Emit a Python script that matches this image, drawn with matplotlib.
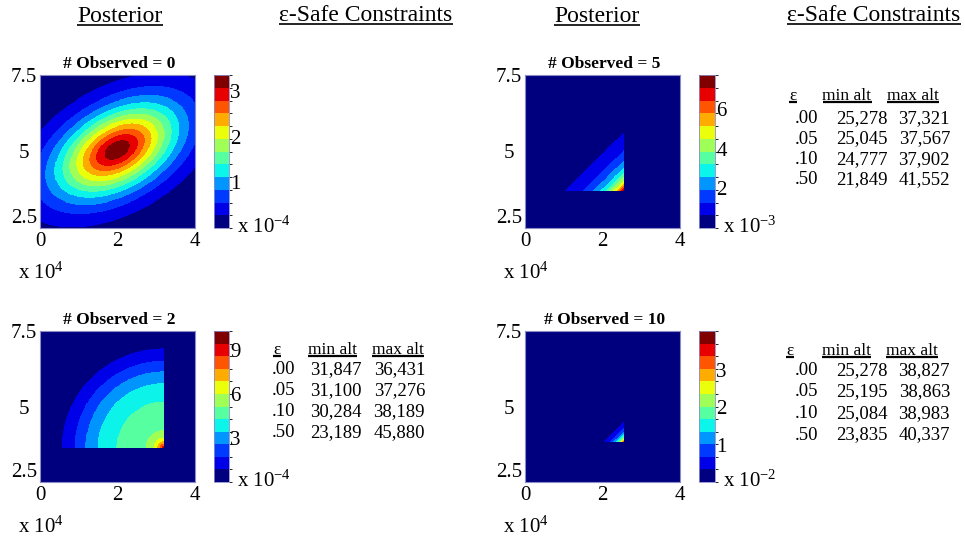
import numpy as np
import matplotlib
matplotlib.use('Agg')
import matplotlib.pyplot as plt
from matplotlib.colors import ListedColormap, BoundaryNorm
from matplotlib.lines import Line2D

plt.rcParams['font.family'] = ['Liberation Serif', 'DejaVu Serif']
plt.rcParams['mathtext.fontset'] = 'custom'
plt.rcParams['mathtext.rm'] = 'Liberation Serif'
plt.rcParams['mathtext.it'] = 'Liberation Serif:italic'
plt.rcParams['mathtext.bf'] = 'Liberation Serif:bold'

# ---------------- data ----------------
observed = [0, 5, 2, 10]
x_ticks = [0, 2, 4]               # x 10^4
y_ticks = [2.5, 5, 7.5]
cbar_max = [3.35, 7.7, 10.3, 4.05]
cbar_ticks = [[1, 2, 3], [2, 4, 6], [3, 6, 9], [1, 2, 3]]
cbar_exp = [-4, -3, -4, -2]
peak_value = [3.3, 7.5, 9.6, 3.9]
# posterior support (truncation) [xmin, xmax, ymin, ymax], x in units of 10^4
support = [[0, 4, 2.5, 7.5], [0, 2.55, 3.72, 7.5], [0, 3.2, 3.63, 7.1], [0, 2.55, 3.82, 7.5]]
# posterior shape components: (weight, centre_u, centre_v, scale_major, scale_minor, angle_deg, power)
# centres/scales as fractions of the axis ranges
shape_obs0 = [(1.0, 0.497, 0.51, 0.423, 0.245, 30, 1.7)]
shape_obs5 = [(1.0, 0.6375, 0.244, 100.0, 0.099, 45, 0.9)]
shape_obs2 = [(4.5, 0.80, 0.226, 0.58, 0.58, 0, 4), (5.0, 0.80, 0.226, 0.052, 0.052, 0, 1)]
shape_obs10 = [(1.0, 0.6375, 0.264, 100.0, 0.035, 45, 0.9)]
shapes = [shape_obs0, shape_obs5, shape_obs2, shape_obs10]

eps_labels = ['.00', '.05', '.10', '.50']
min_alt_obs2 = [31847, 31100, 30284, 23189]
max_alt_obs2 = [36431, 37276, 38189, 45880]
min_alt_obs5 = [25278, 25045, 24777, 21849]
max_alt_obs5 = [37321, 37567, 37902, 41552]
min_alt_obs10 = [25278, 25195, 25084, 23835]
max_alt_obs10 = [38827, 38863, 38983, 40337]
tables = {1: (min_alt_obs5, max_alt_obs5), 2: (min_alt_obs2, max_alt_obs2), 3: (min_alt_obs10, max_alt_obs10)}

# ---------------- layout (pixels) ----------------
W, H = 965, 537
fig = plt.figure(figsize=(W / 100, H / 100), dpi=100)
axes_px = [(40, 75, 195, 228), (525, 75, 680, 228), (40, 331, 195, 482), (525, 331, 680, 482)]
cbar_px = [(214, 229), (699, 715), (214, 229), (699, 715)]
# table layout: header baseline, first row baseline, row step, header centres, column right edges
table_px = {
    1: dict(hb=100, rb=123, step=20.5, hc=(793, 847, 913), re=(818, 888, 950)),
    2: dict(hb=354, rb=374, step=21.0, hc=(277, 332, 398), re=(295, 362, 425)),
    3: dict(hb=355, rb=375, step=21.5, hc=(790, 846, 912), re=(818, 888, 950)),
}

def fx(x):
    return x / W

def fy(y):
    return 1 - y / H

def rect(l, t, r, b):
    return [fx(l), fy(b), (r - l) / W, (b - t) / H]

cmap = ListedColormap(plt.get_cmap('jet')(np.linspace(0, 1, 12)))
spine_col = '#8c8cc8'
tick_fs = 15

n = 300
u = np.linspace(0, 1, n)
U, V = np.meshgrid(u, u)
X = 4 * U
Y = 2.5 + 5 * V

def density(comps, box):
    f = np.zeros_like(U)
    for w, cu, cv, smaj, smin, ang, p in comps:
        th = np.deg2rad(ang)
        du, dv = U - cu, V - cv
        a = du * np.cos(th) + dv * np.sin(th)
        b = -du * np.sin(th) + dv * np.cos(th)
        Q = (a / smaj) ** 2 + (b / smin) ** 2
        f += w * np.exp(-Q ** (p / 2))
    inside = (X >= box[0]) & (X <= box[1]) & (Y >= box[2]) & (Y <= box[3])
    f = np.where(inside, f, 0.0)
    return f

underline_list = []

for i in range(4):
    l, t, r, b = axes_px[i]
    ax = fig.add_axes(rect(l, t, r, b))
    f = density(shapes[i], support[i])
    f = f * peak_value[i] / f.max()
    norm = BoundaryNorm(np.linspace(0, cbar_max[i], 13), 12)
    im = ax.imshow(f, origin='lower', extent=[0, 4, 2.5, 7.5], aspect='auto',
                   cmap=cmap, norm=norm, interpolation='nearest')
    ax.set_xlim(0, 4)
    ax.set_ylim(2.5, 7.5)
    ax.set_xticks(x_ticks)
    ax.set_xticklabels([str(v) for v in x_ticks])
    ax.set_yticks(y_ticks)
    ax.set_yticklabels(['2.5', '5', '7.5'])
    ax.tick_params(axis='both', length=0, labelsize=tick_fs)
    ax.tick_params(axis='x', pad=3)
    ax.tick_params(axis='y', pad=11.5)
    for lbl in ax.get_yticklabels():
        lbl.set_ha('center')
    ax.get_yticklabels()[0].set_va('bottom')
    for s in ax.spines.values():
        s.set_color(spine_col)
        s.set_linewidth(0.8)

    c0, c1 = cbar_px[i]
    cax = fig.add_axes(rect(c0, t, c1, b))
    cb = fig.colorbar(im, cax=cax, ticks=cbar_ticks[i])
    cb.ax.tick_params(length=0, labelsize=tick_fs, pad=1)
    cb.outline.set_edgecolor(spine_col)
    cb.outline.set_linewidth(0.6)

    # titles and multipliers
    fig.text(fx((l + r) / 2 + 2), fy(t - 7), '# Observed = %d' % observed[i], ha='center',
             va='baseline', fontsize=12.5, fontweight='bold')
    fig.text(fx(l - 22), fy(b + 51), r'x 10$^{4}$', ha='left', va='baseline', fontsize=tick_fs)
    fig.text(fx(c1 + 8), fy(b + 5), r'x 10$^{%d}$' % cbar_exp[i], ha='left', va='baseline',
             fontsize=tick_fs)

    if i in tables:
        mins, maxs = tables[i]
        lay = table_px[i]
        hb = lay['hb']
        for txt, cx in zip(['ε', 'min alt', 'max alt'], lay['hc']):
            tt = fig.text(fx(cx), fy(hb), txt, ha='center', va='baseline', fontsize=12.5)
            underline_list.append((tt, hb + 2, 1.6))
        for k in range(4):
            yb = lay['rb'] + k * lay['step']
            fig.text(fx(lay['re'][0]), fy(yb), eps_labels[k], ha='right', va='baseline', fontsize=13.5)
            fig.text(fx(lay['re'][1]), fy(yb), f'{mins[k]:,}', ha='right', va='baseline', fontsize=13.5)
            fig.text(fx(lay['re'][2]), fy(yb), f'{maxs[k]:,}', ha='right', va='baseline', fontsize=13.5)

# column headers
for cx in (120, 597):
    tt = fig.text(fx(cx), fy(22), 'Posterior', ha='center', va='baseline', fontsize=17)
    underline_list.append((tt, 24.5, 1.2))
for cx in (366, 874):
    tt = fig.text(fx(cx), fy(21), 'ε-Safe Constraints', ha='center', va='baseline', fontsize=17)
    underline_list.append((tt, 23.5, 1.2))

fig.canvas.draw()
renderer = fig.canvas.get_renderer()
for tt, ypx, lw in underline_list:
    bb = tt.get_window_extent(renderer)
    fig.add_artist(Line2D([bb.x0 / W, bb.x1 / W], [fy(ypx), fy(ypx)], transform=fig.transFigure,
                          color='black', lw=lw, solid_capstyle='butt'))

fig.savefig('out.png', dpi=100, facecolor='white')
